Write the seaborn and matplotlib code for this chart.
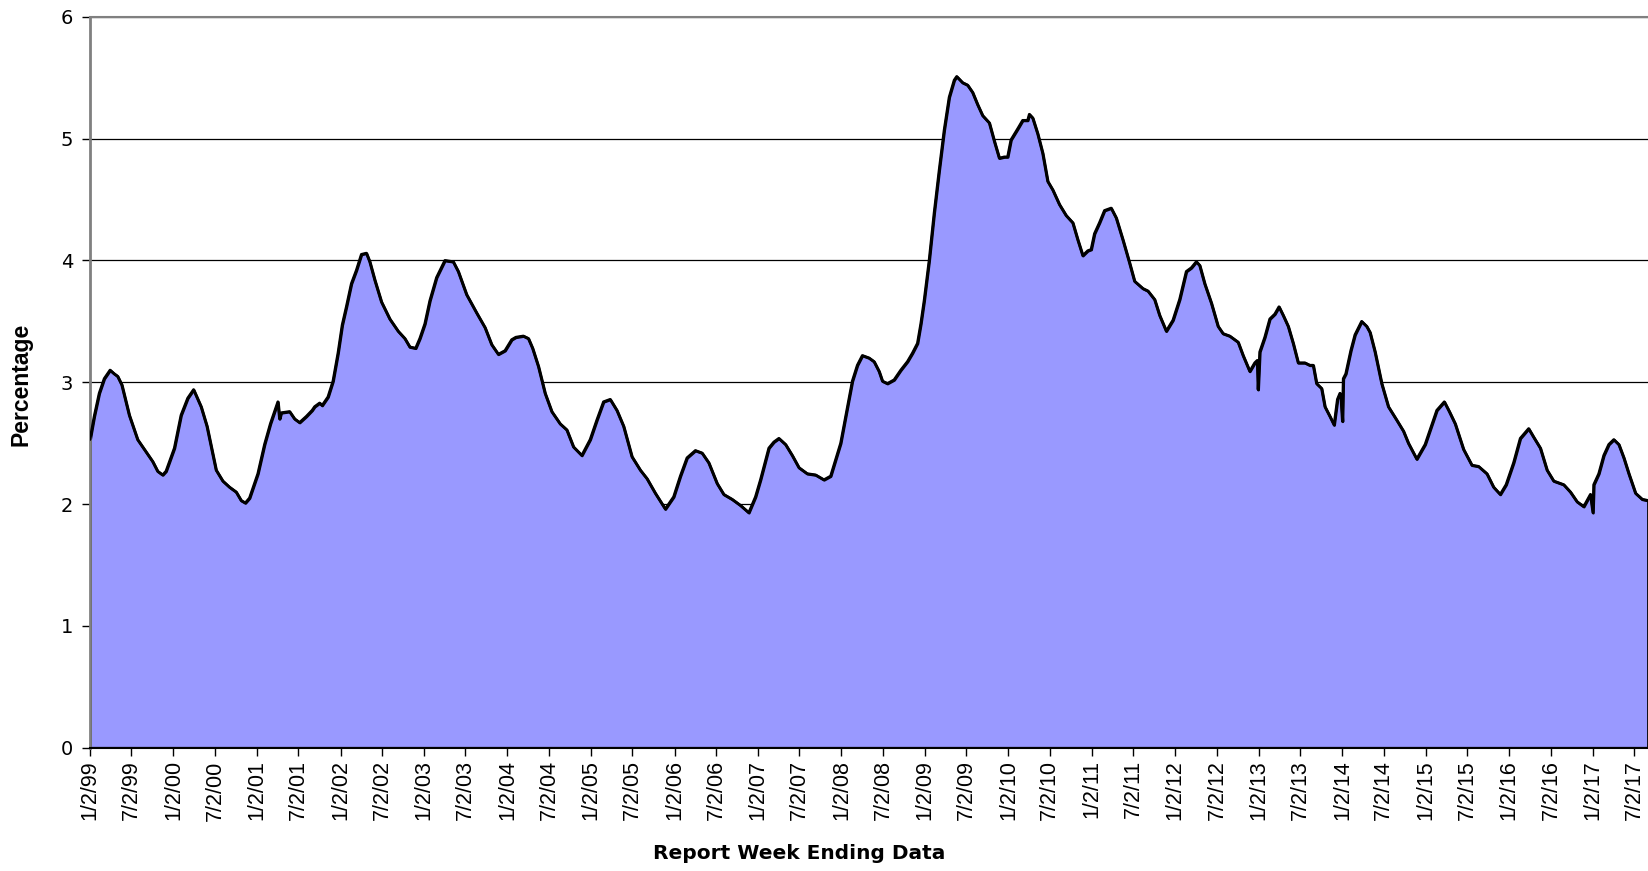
import numpy as np
import pandas as pd
import matplotlib
matplotlib.use("Agg")
import matplotlib.pyplot as plt
import matplotlib.dates as mdates
import seaborn as sns

# Weekly series, sampled: time since the first report week (in years) and the value.
START = pd.Timestamp("1999-01-02")

years_after_start = [
    0.00, 0.05, 0.11, 0.17, 0.24, 0.29, 0.33, 0.38, 0.47, 0.57, 0.65, 0.75, 0.81, 0.87, 0.91,
    1.01, 1.09, 1.17, 1.24, 1.33, 1.40, 1.51, 1.59, 1.67, 1.75, 1.81, 1.86, 1.91,
    2.01, 2.09, 2.16, 2.25, 2.27, 2.29, 2.39, 2.45, 2.51, 2.59, 2.66, 2.69, 2.75, 2.78, 2.85, 2.91, 2.97,
    3.02, 3.07, 3.13, 3.19, 3.25, 3.31, 3.35, 3.41, 3.49, 3.59, 3.69, 3.77, 3.83, 3.90, 3.95,
    4.01, 4.07, 4.15, 4.25, 4.35, 4.41, 4.51, 4.63, 4.73, 4.81, 4.89, 4.97,
    5.05, 5.10, 5.19, 5.25, 5.30, 5.37, 5.45, 5.53, 5.63, 5.71, 5.79, 5.89, 5.99,
    6.07, 6.15, 6.23, 6.31, 6.39, 6.49, 6.59, 6.67, 6.77, 6.89, 6.99,
    7.07, 7.15, 7.25, 7.33, 7.41, 7.51, 7.59, 7.69, 7.79, 7.89, 7.97,
    8.03, 8.13, 8.19, 8.25, 8.33, 8.41, 8.49, 8.59, 8.69, 8.79, 8.87, 8.91, 8.99,
    9.05, 9.13, 9.19, 9.25, 9.33, 9.39, 9.45, 9.49, 9.55, 9.63, 9.71, 9.79, 9.85, 9.91, 9.95, 9.99,
    10.05, 10.11, 10.17, 10.23, 10.29, 10.35, 10.38, 10.45, 10.51, 10.57, 10.63, 10.69, 10.77,
    10.83, 10.89, 10.95, 10.99,
    11.03, 11.11, 11.17, 11.23, 11.25, 11.29, 11.35, 11.41, 11.47, 11.53, 11.61, 11.69, 11.77,
    11.83, 11.89, 11.95, 11.99,
    12.03, 12.09, 12.15, 12.23, 12.29, 12.37, 12.45, 12.51, 12.61, 12.67, 12.75, 12.81, 12.89, 12.97,
    13.05, 13.13, 13.19, 13.25, 13.29, 13.35, 13.43, 13.51, 13.57, 13.65, 13.75, 13.81, 13.89,
    13.95, 13.98, 13.99,
    14.01, 14.07, 14.13, 14.19, 14.24, 14.29, 14.35, 14.41, 14.47, 14.55, 14.61, 14.65, 14.69,
    14.75, 14.79, 14.85, 14.90, 14.94, 14.97, 14.98, 15.00,
    15.01, 15.04, 15.10, 15.15, 15.23, 15.29, 15.33, 15.39, 15.47, 15.55, 15.65, 15.73, 15.79,
    15.89, 15.94, 15.99,
    16.05, 16.13, 16.22, 16.28, 16.35, 16.45, 16.55, 16.63, 16.73, 16.81, 16.89, 16.96,
    17.05, 17.13, 17.23, 17.29, 17.37, 17.45, 17.53, 17.65, 17.73, 17.81, 17.89, 17.97, 18.00,
    18.01, 18.07, 18.13, 18.19, 18.25, 18.31, 18.37, 18.43, 18.51, 18.59, 18.66,
]

percentage = [
    2.53, 2.72, 2.91, 3.03, 3.10, 3.07, 3.05, 2.98, 2.73, 2.53, 2.45, 2.35, 2.27, 2.24, 2.27,
    2.46, 2.73, 2.87, 2.94, 2.80, 2.64, 2.28, 2.19, 2.14, 2.10, 2.03, 2.01, 2.05,
    2.25, 2.49, 2.66, 2.84, 2.70, 2.75, 2.76, 2.70, 2.67, 2.72, 2.77, 2.80, 2.83, 2.81, 2.88, 3.01, 3.24,
    3.47, 3.62, 3.81, 3.92, 4.05, 4.06, 3.99, 3.84, 3.66, 3.52, 3.42, 3.36, 3.29, 3.28, 3.36,
    3.48, 3.67, 3.86, 4.00, 3.99, 3.91, 3.72, 3.57, 3.45, 3.31, 3.23, 3.26,
    3.35, 3.37, 3.38, 3.36, 3.28, 3.13, 2.91, 2.76, 2.66, 2.61, 2.47, 2.40, 2.53,
    2.69, 2.84, 2.86, 2.77, 2.64, 2.39, 2.28, 2.21, 2.09, 1.96, 2.06,
    2.23, 2.38, 2.44, 2.42, 2.34, 2.17, 2.08, 2.04, 1.99, 1.93, 2.06,
    2.20, 2.46, 2.51, 2.54, 2.49, 2.40, 2.30, 2.25, 2.24, 2.20, 2.23, 2.32, 2.50,
    2.72, 3.01, 3.14, 3.22, 3.20, 3.17, 3.09, 3.01, 2.99, 3.02, 3.10, 3.17, 3.24, 3.32, 3.48, 3.67,
    4.00, 4.39, 4.74, 5.07, 5.34, 5.48, 5.51, 5.46, 5.44, 5.38, 5.28, 5.19, 5.13,
    4.98, 4.84, 4.85, 4.85,
    4.99, 5.08, 5.15, 5.15, 5.20, 5.17, 5.04, 4.88, 4.65, 4.58, 4.46, 4.37, 4.31,
    4.17, 4.04, 4.08, 4.09,
    4.22, 4.31, 4.41, 4.43, 4.35, 4.17, 3.98, 3.83, 3.77, 3.75, 3.68, 3.55, 3.42, 3.51,
    3.68, 3.91, 3.94, 3.99, 3.96, 3.81, 3.65, 3.46, 3.40, 3.38, 3.33, 3.22, 3.09,
    3.16, 3.18, 2.94,
    3.25, 3.37, 3.52, 3.56, 3.62, 3.55, 3.46, 3.32, 3.16, 3.16, 3.14, 3.14, 2.99,
    2.95, 2.80, 2.72, 2.65, 2.86, 2.91, 2.90, 2.68,
    3.03, 3.07, 3.26, 3.39, 3.50, 3.46, 3.41, 3.25, 2.99, 2.80, 2.69, 2.60, 2.50,
    2.37, 2.43, 2.49,
    2.61, 2.77, 2.84, 2.76, 2.66, 2.45, 2.32, 2.31, 2.25, 2.14, 2.08, 2.16,
    2.34, 2.54, 2.62, 2.55, 2.46, 2.28, 2.19, 2.16, 2.10, 2.02, 1.98, 2.08, 1.93,
    2.16, 2.25, 2.40, 2.49, 2.53, 2.49, 2.38, 2.25, 2.09, 2.04, 2.03,
]

# Axis ticks: every 2 January and 2 July, and the percentage scale
tick_years = list(range(1999, 2018))
tick_months = [1, 7]
y_ticks = [0, 1, 2, 3, 4, 5, 6]
x_title = "Report Week Ending Data"
y_title = "Percentage"
visible_span_years = 18.66

sns.set_theme(style="white")
plt.rcParams["font.family"] = ["Liberation Sans", "DejaVu Sans"]
plt.rcParams["text.color"] = "black"
plt.rcParams["xtick.color"] = "black"
plt.rcParams["ytick.color"] = "black"

df = pd.DataFrame({
    "week_ending": START + pd.to_timedelta(np.array(years_after_start) * 365.25, unit="D"),
    "percentage": percentage,
})

fig = plt.figure(figsize=(16.48, 8.71), dpi=100)
ax = fig.add_axes([90 / 1648, 123.2 / 871, 1558 / 1648, 731 / 871])

x_num = mdates.date2num(df["week_ending"])
ax.fill_between(x_num, df["percentage"], 0, facecolor="#9999FF",
                edgecolor="black", linewidth=2.0, zorder=2)
sns.lineplot(x=x_num, y=df["percentage"], ax=ax, color="black",
             linewidth=2.0, zorder=3, legend=False)

# Gridlines sit behind the filled area
ax.set_axisbelow(True)
ax.yaxis.grid(True, color="black", linewidth=0.9)
ax.xaxis.grid(False)

ax.set_ylim(0, 6)
x_end = START + pd.Timedelta(days=visible_span_years * 365.25)
ax.set_xlim(mdates.date2num(START), mdates.date2num(x_end))

tick_dates = [pd.Timestamp(year=y, month=m, day=2) for y in tick_years for m in tick_months]
tick_dates = [d for d in tick_dates if d <= x_end]
tick_labels = [f"{d.month}/{d.day}/{d:%y}" for d in tick_dates]
ax.set_xticks(mdates.date2num(tick_dates))
ax.set_xticklabels(tick_labels, rotation=90, fontsize=15.5, color="black",
                   fontfamily=["Liberation Sans Narrow", "Liberation Sans"])
ax.set_yticks(y_ticks)
ax.set_yticklabels([str(v) for v in y_ticks], fontsize=14, color="black",
                   fontfamily=["DejaVu Sans"])

ax.tick_params(axis="x", direction="out", length=6, width=1, color="black", pad=3,
               bottom=True, labelcolor="black")
ax.tick_params(axis="y", direction="out", length=6, width=1, color="black", pad=6,
               left=True, labelcolor="black")

ax.set_xlabel("")
ax.set_ylabel("")
ax.spines["right"].set_visible(False)
ax.spines["left"].set_color("#808080")
ax.spines["left"].set_linewidth(2)
ax.spines["top"].set_color("#808080")
ax.spines["top"].set_linewidth(1.5)
ax.spines["bottom"].set_color("black")
ax.spines["bottom"].set_linewidth(1.5)

fig.text(799 / 1648, 1 - 853 / 871, x_title, ha="center", va="center", color="black",
         fontsize=14.5, fontweight="bold", fontfamily=["DejaVu Sans"])
fig.text(21 / 1648, 1 - 384 / 871, y_title, ha="center", va="center", rotation=90,
         color="black", fontsize=16.5, fontweight="bold", fontfamily=["Liberation Sans"])

fig.savefig("out.png", dpi=100, facecolor="white")
